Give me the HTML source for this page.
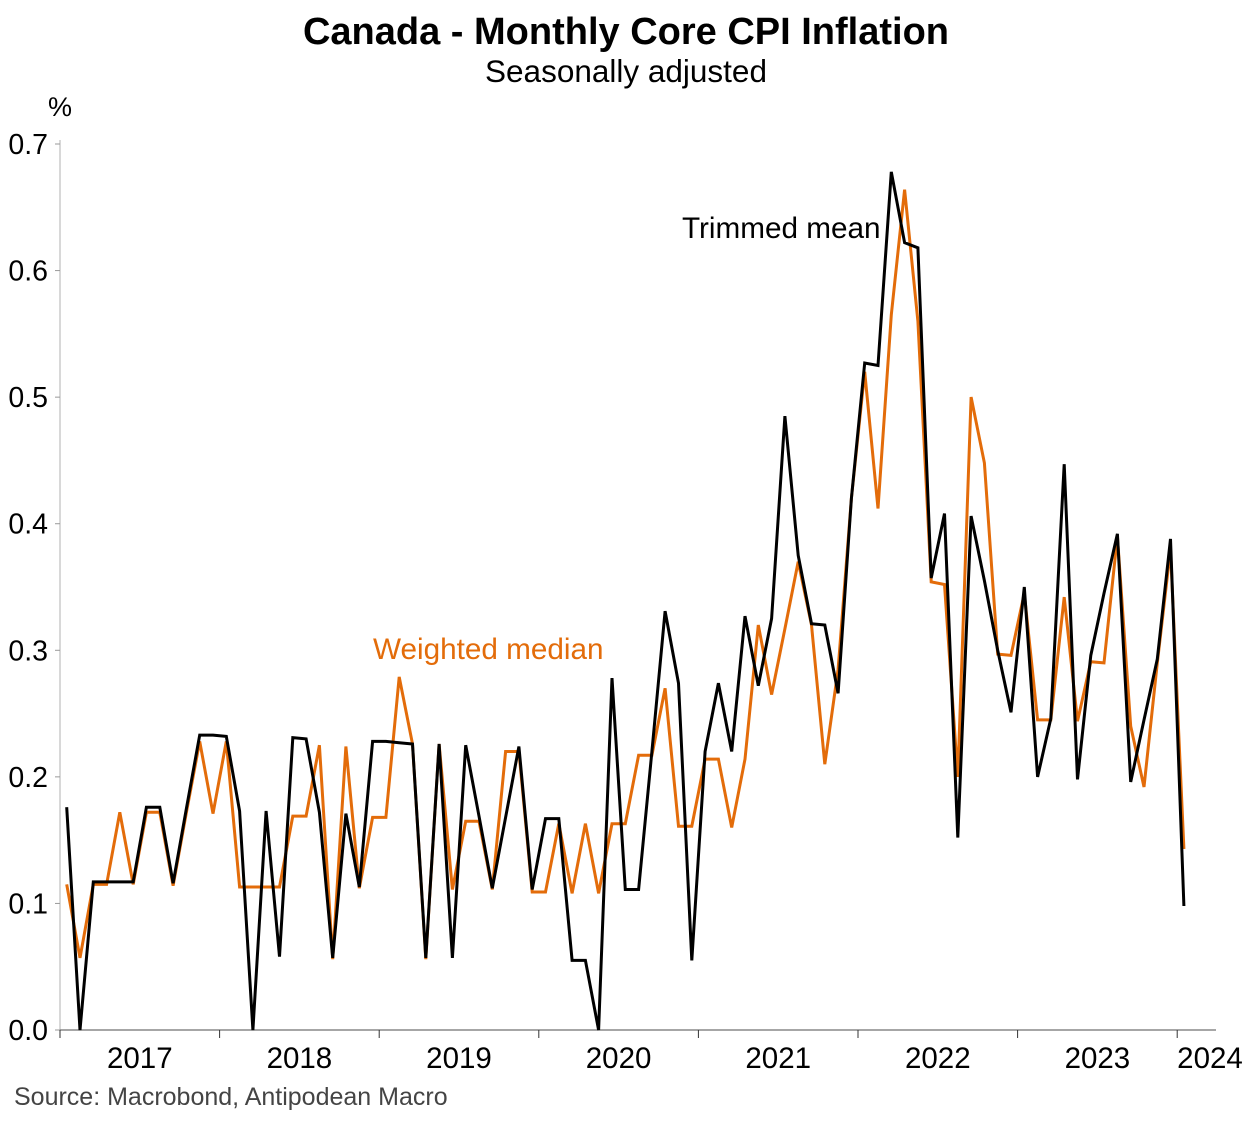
<!DOCTYPE html>
<html><head><meta charset="utf-8">
<style>
body{margin:0;background:#fff;width:1253px;height:1122px;overflow:hidden;font-family:"Liberation Sans",Arial,sans-serif}
svg{display:block}
</style></head>
<body>
<svg id="chart" width="1253" height="1122" xmlns="http://www.w3.org/2000/svg">
<text x="626" y="44" text-anchor="middle" font-size="38" font-weight="bold" fill="#000">Canada - Monthly Core CPI Inflation</text>
<text x="626" y="82" text-anchor="middle" font-size="31.5" fill="#000">Seasonally adjusted</text>
<text x="60" y="116" text-anchor="middle" font-size="27" fill="#000">%</text>
<g id="axes"></g>
<g id="series"></g>
<text x="682" y="238" font-size="29.7" fill="#000">Trimmed mean</text>
<text x="373" y="659" font-size="29.7" fill="#E36C0A">Weighted median</text>
<text x="14" y="1105" font-size="25" fill="#444">Source: Macrobond, Antipodean Macro</text>
</svg>
<script>
const trimmedMean=[0.176,0.0,0.117,0.117,0.117,0.117,0.176,0.176,0.116,0.175,0.233,0.233,0.232,0.173,0.0,0.173,0.058,0.231,0.230,0.172,0.057,0.171,0.113,0.228,0.228,0.227,0.226,0.057,0.226,0.057,0.225,0.169,0.112,0.168,0.224,0.111,0.167,0.167,0.055,0.055,0.0,0.278,0.111,0.111,0.22,0.331,0.274,0.055,0.22,0.274,0.22,0.327,0.272,0.325,0.485,0.375,0.321,0.32,0.266,0.42,0.527,0.525,0.678,0.622,0.618,0.357,0.408,0.152,0.406,0.355,0.30,0.251,0.35,0.2,0.246,0.447,0.198,0.296,0.345,0.392,0.196,0.245,0.293,0.388,0.098];
const weightedMedian=[0.115,0.057,0.115,0.115,0.172,0.115,0.172,0.172,0.114,0.172,0.228,0.171,0.228,0.113,0.113,0.113,0.113,0.169,0.169,0.225,0.056,0.224,0.112,0.168,0.168,0.279,0.226,0.056,0.226,0.111,0.165,0.165,0.111,0.22,0.22,0.109,0.109,0.163,0.108,0.163,0.108,0.163,0.163,0.217,0.217,0.27,0.161,0.161,0.214,0.214,0.16,0.214,0.32,0.265,0.317,0.37,0.32,0.21,0.285,0.42,0.52,0.412,0.565,0.664,0.56,0.354,0.352,0.2,0.5,0.448,0.297,0.296,0.345,0.245,0.245,0.342,0.244,0.291,0.29,0.39,0.24,0.192,0.29,0.38,0.143];
const yTicks=["0.0","0.1","0.2","0.3","0.4","0.5","0.6","0.7"];
const yearLabels=["2017","2018","2019","2020","2021","2022","2023","2024"];
const NS="http://www.w3.org/2000/svg";
const X0=60,MW=13.3,Y0=1030,YU=1265.7;
function xS(i){return X0+(i+0.5)*MW;}
function yS(v){return Y0-v*YU;}
function mk(tag,attrs,parent){const e=document.createElementNS(NS,tag);for(const k in attrs)e.setAttribute(k,attrs[k]);parent.appendChild(e);return e;}
const axes=document.getElementById('axes');
let yl=mk('line',{x1:X0,y1:140,x2:X0,y2:Y0,stroke:'#ccc','stroke-width':1.5},axes);


yTicks.forEach((t,k)=>{const v=parseFloat(t);const y=yS(v);
 let tk=mk('line',{x1:X0-5,y1:y,x2:X0,y2:y,stroke:'#999','stroke-width':1},axes);
 
 
 let tx=mk('text',{x:48,y:y+10,'text-anchor':'end','font-size':28.5,fill:'#000'},axes);tx.textContent=t;
 
 
});
let xl=mk('line',{x1:X0,y1:Y0,x2:1216,y2:Y0,stroke:'#888','stroke-width':1.5},axes);


yearLabels.forEach((t,k)=>{const x=X0+k*12*MW;
 let tk=mk('line',{x1:x,y1:Y0,x2:x,y2:Y0+8,stroke:'#333','stroke-width':1},axes);
 
 
 const last=k===yearLabels.length-1;
 let tx=mk('text',{x:last?1210:x+6*MW,y:1068,'text-anchor':'middle','font-size':29.5,fill:'#000'},axes);tx.textContent=t;
 
 
});
const ser=document.getElementById('series');
function line(data,color,name){const p=data.map((v,i)=>(i?'L':'M')+xS(i).toFixed(1)+' '+yS(v).toFixed(1)).join(' ');
 let e=mk('path',{d:p,fill:'none',stroke:color,'stroke-width':3,'stroke-linejoin':'miter'},ser);
 
 }
line(weightedMedian,'#E36C0A','weighted-median-line');
line(trimmedMean,'#000','trimmed-mean-line');
</script>
</body></html>
